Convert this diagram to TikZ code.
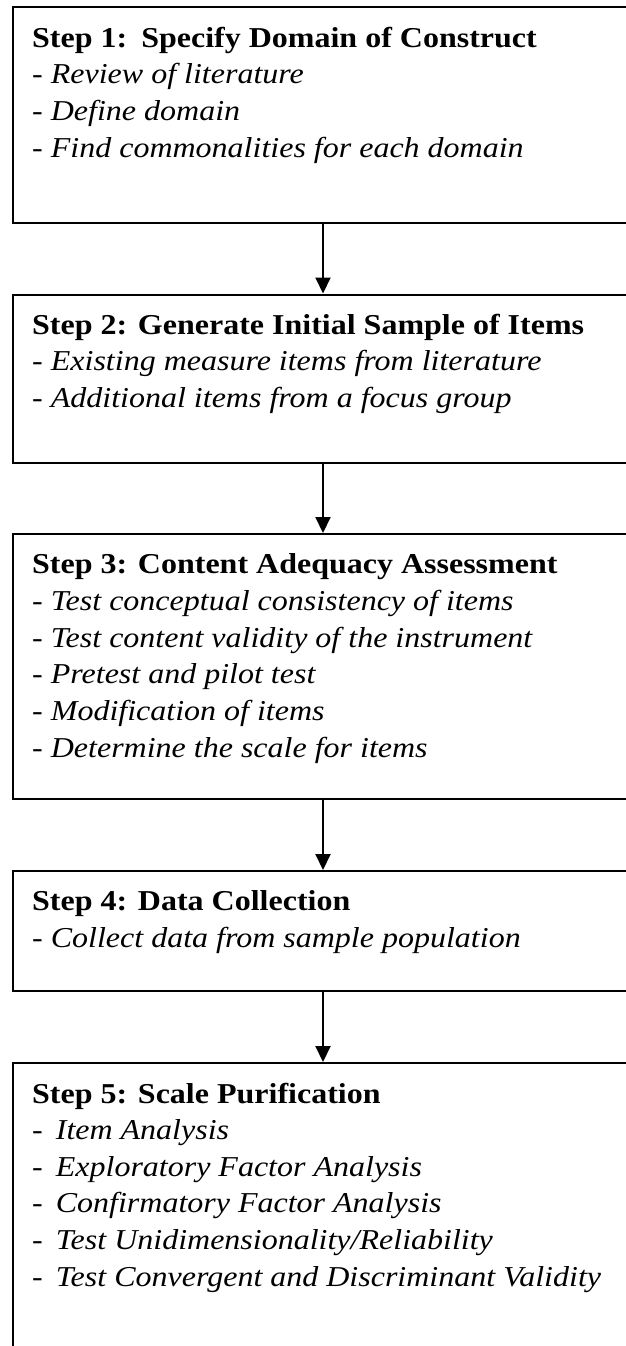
\documentclass[tikz,border=0pt]{standalone}
\usepackage{fontspec}
\setmainfont{Liberation Serif}
\usetikzlibrary{arrows.meta,calc}
\tikzset{
  stepbox/.style={draw, line width=2pt, minimum width=640pt, anchor=north west, inner sep=0pt},
  steptext/.style={anchor=base west, align=left, inner sep=0pt, yscale=0.9, transform shape,
    font=\fontsize{32}{40.67}\selectfont},
  flow/.style={-{Triangle[width=15pt,length=16pt]}, line width=2pt}
}

\begin{document}
\begin{tikzpicture}[x=1pt,y=-1pt]
			\clip (0,0) rectangle (626,1346);
			% boxes
			\node[stepbox, minimum height=216pt] (s1) at (12,6) {};
			\node[stepbox, minimum height=168.5pt] (s2) at (12,293.5) {};
			\node[stepbox, minimum height=265pt] (s3) at (12,533) {};
			\node[stepbox, minimum height=120pt] (s4) at (12,870) {};
			\node[stepbox, minimum height=320pt] (s5) at (12,1062) {};
			% texts (anchored at the baseline of the last line)
			\node[steptext] (t1) at ($(s1.north west)+(20,151)$) {\textbf{Step 1:\hspace{14pt}Specify Domain of Construct}\\
				\textit{- Review of literature}\\
				\textit{- Define domain}\\
				\textit{- Find commonalities for each domain}};
			\node[steptext] (t2) at ($(s2.north west)+(20,114)$) {\textbf{Step 2: Generate Initial Sample of Items}\\
				\textit{- Existing measure items from literature}\\
				\textit{- Additional items from a focus group}};
			\node[steptext] (t3) at ($(s3.north west)+(20,224)$) {\textbf{Step 3: Content Adequacy Assessment}\\
				\textit{- Test conceptual consistency of items}\\
				\textit{- Test content validity of the instrument}\\
				\textit{- Pretest and pilot test}\\
				\textit{- Modification of items}\\
				\textit{- Determine the scale for items}};
			\node[steptext] (t4) at ($(s4.north west)+(20,77)$) {\textbf{Step 4: Data Collection}\\
				\textit{- Collect data from sample population}};
			\node[steptext] (t5) at ($(s5.north west)+(20,224)$) {\textbf{Step 5: Scale Purification}\\
				-\hspace{13pt}\textit{Item Analysis}\\
				-\hspace{13pt}\textit{Exploratory Factor Analysis}\\
				-\hspace{13pt}\textit{Confirmatory Factor Analysis}\\
				-\hspace{13pt}\textit{Test Unidimensionality/Reliability}\\
				-\hspace{13pt}\textit{Test Convergent and Discriminant Validity}};
			% arrows
			\foreach \a/\b in {s1/s2,s2/s3,s3/s4,s4/s5}
			\draw[flow] ([xshift=311pt]\a.south west) -- ([xshift=311pt]\b.north west);
		\end{tikzpicture}
\end{document}
